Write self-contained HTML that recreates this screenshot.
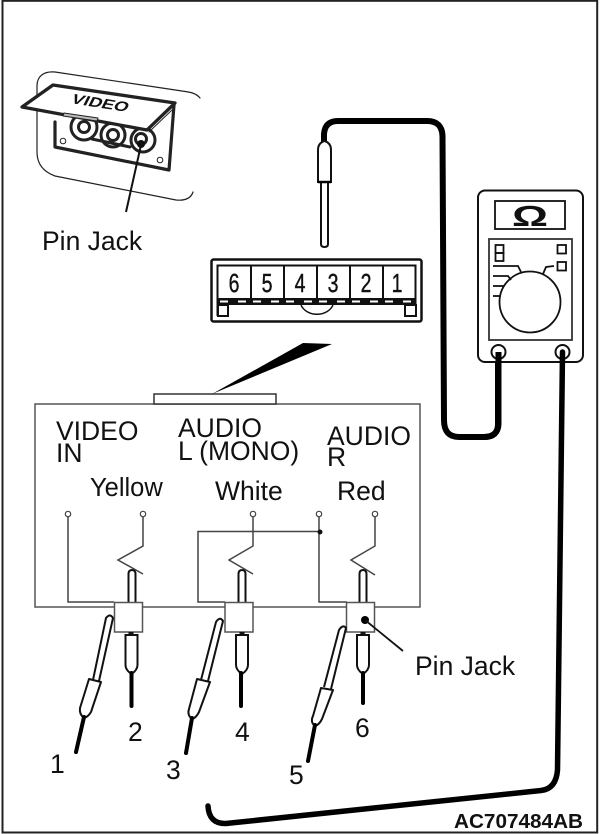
<!DOCTYPE html>
<html>
<head>
<meta charset="utf-8">
<style>
html,body{margin:0;padding:0;background:#fff;width:600px;height:834px;overflow:hidden}
svg{display:block}
text{font-family:"Liberation Sans",sans-serif;fill:#111}
.l{font-size:26.500px}
</style>
</head>
<body>
<svg width="600" height="834" viewBox="0 0 600 834" xmlns="http://www.w3.org/2000/svg">
<rect x="2.500" y="0.800" width="594.700" height="831.700" fill="#fff" stroke="#222" stroke-width="2"/>

<!-- video panel -->
<g fill="none" stroke="#222" stroke-linejoin="round" stroke-linecap="round">
<path d="M200 98C196 93 190 92 182 91L55 72C44 71 37 76 37 86L37 152C37 165 44 172 55 176L176 200C186 201 191 198 193 192" stroke-width="1.200"/>
<path d="M55 122L55 147L169 170L174 105" stroke-width="3.200" fill="#fff"/>
<circle cx="84" cy="127" r="13" fill="#fff" stroke-width="3"/>
<circle cx="84" cy="127" r="5.500" stroke-width="3"/>
<circle cx="113" cy="135" r="12" fill="#fff" stroke-width="3"/>
<circle cx="113" cy="135" r="5.500" stroke-width="3"/>
<circle cx="143" cy="140" r="12" fill="#fff" stroke-width="3"/>
<circle cx="141" cy="139" r="5.500" stroke-width="3"/>
<path d="M92 139L130 147" stroke-width="3"/>
<circle cx="63" cy="141" r="2.800" stroke-width="1"/>
<circle cx="160" cy="160" r="2.800" stroke-width="1"/>
<path d="M22 107L53 85L175 103L147 130Z" fill="#fff" stroke-width="3.300"/>
<path d="M64 113L98 118L97 121L63 116Z" fill="#bbb" stroke-width="1"/>
<path d="M149 132L172 110" stroke-width="1"/>
</g>
<text transform="translate(70 103) rotate(9) skewX(-18)" font-size="14" font-weight="bold" textLength="57" lengthAdjust="spacingAndGlyphs">VIDEO</text>
<circle cx="141" cy="144" r="4" fill="#111"/>
<path d="M141 145L126 212" stroke="#111" stroke-width="2" fill="none"/>
<text class="l" x="42" y="250">Pin Jack</text>

<!-- upper probe & cable -->
<path d="M324 143L324 134Q325 121 338 121L427 121Q442 121 442.500 136L444 420Q444 437 459 437L484 437Q498 437 498 424L498 352" fill="none" stroke="#000" stroke-width="6"/>
<path d="M318 182L318 150Q318 143 324.500 141Q331 143 331 150L331 182Z" fill="#fff" stroke="#111" stroke-width="2"/>
<path d="M321 182L321 244Q321 247 324.500 247Q328 247 328 244L328 182" fill="#fff" stroke="#111" stroke-width="2"/>
<path d="M318 182L331 182" stroke="#000" stroke-width="2.500"/>

<!-- connector -->
<rect x="211.500" y="259.500" width="210" height="62" rx="2" fill="#fff" stroke="#111" stroke-width="2.500"/>
<path d="M217.500 316V265.500H415.500V316" fill="#fff" stroke="#111" stroke-width="2"/>
<path d="M251 265V298M284 265V298M317 265V298M350 265V298M383 265V298" stroke="#111" stroke-width="2"/>
<rect x="217" y="298" width="199" height="7" fill="#111"/>
<path d="M220 301.500H416" stroke="#fff" stroke-width="2" stroke-dasharray="8 10 8 7"/>
<rect x="218" y="305" width="10" height="11" fill="#fff" stroke="#111" stroke-width="2"/>
<rect x="405" y="305" width="11" height="11" fill="#fff" stroke="#111" stroke-width="2"/>
<path d="M301 305A17 14 0 0 0 333 305" fill="none" stroke="#111" stroke-width="1.500"/>
<g font-size="26" stroke="#111" stroke-width="0.400">
<text x="234" y="292" text-anchor="middle" transform="translate(58.500 0) scale(.75 1)">6</text>
<text x="267" y="292" text-anchor="middle" transform="translate(66.750 0) scale(.75 1)">5</text>
<text x="300" y="292" text-anchor="middle" transform="translate(75 0) scale(.75 1)">4</text>
<text x="333" y="292" text-anchor="middle" transform="translate(83.250 0) scale(.75 1)">3</text>
<text x="366" y="292" text-anchor="middle" transform="translate(91.500 0) scale(.75 1)">2</text>
<text x="397" y="292" text-anchor="middle" transform="translate(99.250 0) scale(.75 1)">1</text>
</g>

<!-- wedge and panel -->
<path d="M303 343L332 344L212 394Z" fill="#000"/>
<rect x="35" y="404" width="385" height="203" fill="none" stroke="#555" stroke-width="1.500"/>
<rect x="154" y="394" width="122" height="10" fill="#fff" stroke="#333" stroke-width="1.500"/>

<text class="l" x="56" y="440">VIDEO</text>
<text class="l" x="56" y="462">IN</text>
<text class="l" x="178" y="437">AUDIO</text>
<text class="l" x="178" y="460">L (MONO)</text>
<text class="l" x="327" y="445">AUDIO</text>
<text class="l" x="327" y="466">R</text>
<text x="90" y="496" font-size="25.500">Yellow</text>
<text class="l" x="215" y="500">White</text>
<text class="l" x="337" y="500">Red</text>

<!-- wiring -->
<g fill="none" stroke="#444" stroke-width="1.500">
<path d="M68 517V602H114"/>
<path d="M143 517V546L118 560L143 574"/>
<path d="M253 517V546L229 560L253 574"/>
<path d="M375 517V546L351 560L375 575"/>
<path d="M319 517V602H347"/>
<path d="M319 531.500H198V602H225"/>
</g>
<circle cx="320" cy="532" r="2.500" fill="#111"/>
<g fill="#fff" stroke="#444" stroke-width="1.200">
<circle cx="68" cy="514" r="2.700"/><circle cx="143" cy="514" r="2.700"/><circle cx="253" cy="514" r="2.700"/><circle cx="319" cy="514" r="2.700"/><circle cx="375" cy="514" r="2.700"/>
</g>

<!-- jack blocks -->
<g stroke="#111" stroke-width="2" fill="#fff">
<path d="M128.500 602V574Q128.500 570 132 570Q135.500 570 135.500 574V602"/>
<path d="M238.500 602V574Q238.500 570 242 570Q245.500 570 245.500 574V602"/>
<path d="M359.500 602V574Q359.500 570 363 570Q366.500 570 366.500 574V602"/>
<path d="M125.500 635H137.500V665Q137.500 670 131.500 674Q125.500 670 125.500 665Z"/>
<path d="M236 635H248V665Q248 670 242 674Q236 670 236 665Z"/>
<path d="M357 635H369V665Q369 670 363 674Q357 670 357 665Z"/>
</g>
<g fill="#fff" stroke="#555" stroke-width="1.500">
<rect x="114.500" y="602.500" width="28" height="29.500"/>
<rect x="225" y="602.500" width="28" height="29.500"/>
<rect x="346.500" y="602.500" width="28" height="29.500"/>
</g>
<path d="M131.500 673V706M241 673V706M363 673V703" stroke="#000" stroke-width="4" stroke-linecap="round" fill="none"/>
<path d="M131 632V636M242 632V636M363 632V636" stroke="#111" stroke-width="5"/>

<!-- angled probes -->
<g fill="#fff" stroke="#111" stroke-width="2" stroke-linejoin="round">
<path d="M93 680L106 618Q110 613 113 618L99 681"/>
<path d="M89 679L101 682L91 712Q88 717 84 718Q79 714 80 708Z"/>
<path d="M201 680L216 622Q220 616 223 621L208 681"/>
<path d="M197 679L210 682L199 712Q196 718 192 719Q187 715 189 709Z"/>
<path d="M324 687L339 630Q343 624 346 628L331 689"/>
<path d="M321 688L333 690L322 719Q319 725 315 726Q310 722 313 716Z"/>
</g>
<path d="M84 717L76 752M192 718L186 753M315 725L308 761" stroke="#000" stroke-width="4" stroke-linecap="round" fill="none"/>

<circle cx="365" cy="620" r="4" fill="#000"/>
<path d="M365 620L403 651" stroke="#111" stroke-width="1.800"/>
<text class="l" x="415" y="675">Pin Jack</text>

<text class="l" x="50" y="773">1</text>
<text class="l" x="128" y="741">2</text>
<text class="l" x="166" y="779">3</text>
<text class="l" x="235" y="741">4</text>
<text class="l" x="289" y="784">5</text>
<text class="l" x="355" y="737">6</text>

<!-- meter -->
<rect x="478" y="190.500" width="105" height="171.500" rx="7" fill="#fff" stroke="#111" stroke-width="2"/>
<rect x="495" y="201" width="70" height="28" fill="#fff" stroke="#111" stroke-width="1.800"/>
<text x="0" y="226" text-anchor="middle" font-size="29" font-weight="bold" transform="translate(530 0) scale(1.550 1)">Ω</text>
<rect x="489" y="239" width="83" height="101" fill="#fff" stroke="#333" stroke-width="1.800"/>
<g fill="none" stroke="#111" stroke-width="1.800">
<rect x="495.500" y="245" width="8" height="8"/>
<rect x="495.500" y="253" width="8" height="8"/>
<rect x="557.500" y="245" width="8.500" height="8.500"/>
<rect x="557.500" y="262" width="8.500" height="8.500"/>
<path d="M493 266H518L521 272"/>
<path d="M493 276H508L511 280"/>
<path d="M493 286H504"/>
<path d="M493 296H501"/>
<path d="M543 274L546 267L554 266"/>
<circle cx="530" cy="302" r="30.500"/>
</g>
<circle cx="498.500" cy="352" r="7" fill="#fff" stroke="#111" stroke-width="2"/>
<circle cx="562.500" cy="352" r="7" fill="#fff" stroke="#111" stroke-width="2"/>
<path d="M498.500 352V424Q498 437 484 437" fill="none" stroke="#000" stroke-width="6"/>
<path d="M562.500 352L557.500 770Q556 789 541 790.500L226 823.500Q209 824 208 806" fill="none" stroke="#000" stroke-width="5.500" stroke-linecap="round"/>

<text x="454" y="828" font-size="20.500" font-weight="bold" textLength="129" lengthAdjust="spacingAndGlyphs">AC707484AB</text>
</svg>
</body>
</html>
